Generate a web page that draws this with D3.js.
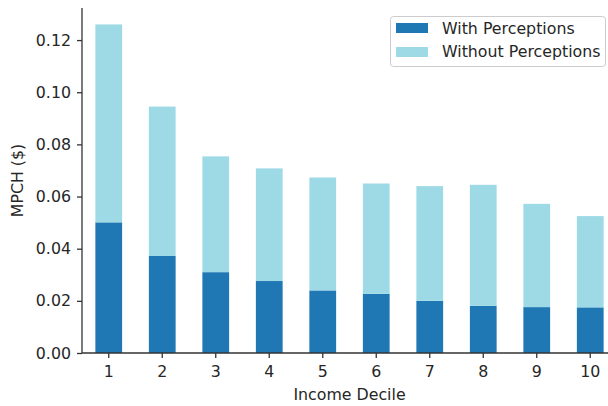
<!DOCTYPE html>
<html><head><meta charset="utf-8">
<script src="https://cdn.jsdelivr.net/npm/d3@7"></script>
<style>body{margin:0;background:#fff}svg{display:block}text{font-family:"DejaVu Sans",sans-serif;fill:#262626}</style>
</head><body>
<svg id="c" width="608" height="406"></svg>
<script>
const deciles = ["1","2","3","4","5","6","7","8","9","10"];
const withPerceptions = [0.0501,0.0372,0.0310,0.0276,0.0240,0.0227,0.0200,0.0181,0.0176,0.0175];
const withoutPerceptions = [0.0759,0.0573,0.0444,0.0432,0.0433,0.0423,0.0440,0.0464,0.0396,0.0350];
const seriesNames = ["With Perceptions","Without Perceptions"];
const seriesColors = ["#1f77b4","#9edae5"];
const yTicks = [0,0.02,0.04,0.06,0.08,0.10,0.12];

const rows = deciles.map((d,i)=>({decile:d,"With Perceptions":withPerceptions[i],"Without Perceptions":withoutPerceptions[i]}));
const stack = d3.stack().keys(seriesNames)(rows);
const maxTotal = d3.max(rows,r=>r["With Perceptions"]+r["Without Perceptions"]);

const FS = 15.8;
const svg = d3.select("#c");
const L=82, R=617, T=8, B=353;
const x = d3.scaleBand().domain(deciles).range([L,R]).paddingInner(0.5).paddingOuter(0.25);
const y = d3.scaleLinear().domain([0,maxTotal*1.05]).range([B,T]);

svg.append("g").selectAll("g").data(stack).join("g")
  .attr("fill",(d,i)=>seriesColors[i])
  .selectAll("rect").data(d=>d).join("rect")
  .attr("x",d=>x(d.data.decile)).attr("width",x.bandwidth())
  .attr("y",d=>y(d[1])).attr("height",d=>y(d[0])-y(d[1]));

const ya = svg.append("g").attr("transform",`translate(${L},0)`)
  .call(d3.axisLeft(y).tickValues(yTicks).tickFormat(d3.format(".2f")).tickSize(5).tickPadding(6));
const xa = svg.append("g").attr("transform",`translate(0,${B})`)
  .call(d3.axisBottom(x).tickSize(5).tickPadding(8));
[ya,xa].forEach(a=>{
  a.selectAll("path,line").attr("stroke","#333").attr("stroke-width",1.3);
  a.selectAll("text").attr("font-size",FS).attr("fill","#262626").style("font-family","DejaVu Sans");
});
ya.select(".domain").attr("d",`M0,${T}V${B}`);
xa.select(".domain").attr("d",`M${L},0H${R}`);

svg.append("text").attr("transform",`translate(23,${(T+B)/2}) rotate(-90)`)
  .attr("text-anchor","middle").attr("font-size",FS).text("MPCH ($)");
svg.append("text").attr("x",(L+R)/2).attr("y",400)
  .attr("text-anchor","middle").attr("font-size",FS).text("Income Decile");

const lg = svg.append("g");
lg.append("rect").attr("x",390.5).attr("y",16.5).attr("width",215).attr("height",50)
  .attr("rx",3).attr("fill","#fff").attr("stroke","#ccc");
seriesNames.forEach((n,i)=>{
  lg.append("rect").attr("x",396).attr("y",23+i*24).attr("width",32).attr("height",10).attr("fill",seriesColors[i]);
  lg.append("text").attr("x",442).attr("y",33.5+i*23.5).attr("font-size",FS).text(n);
});
</script>
</body></html>
